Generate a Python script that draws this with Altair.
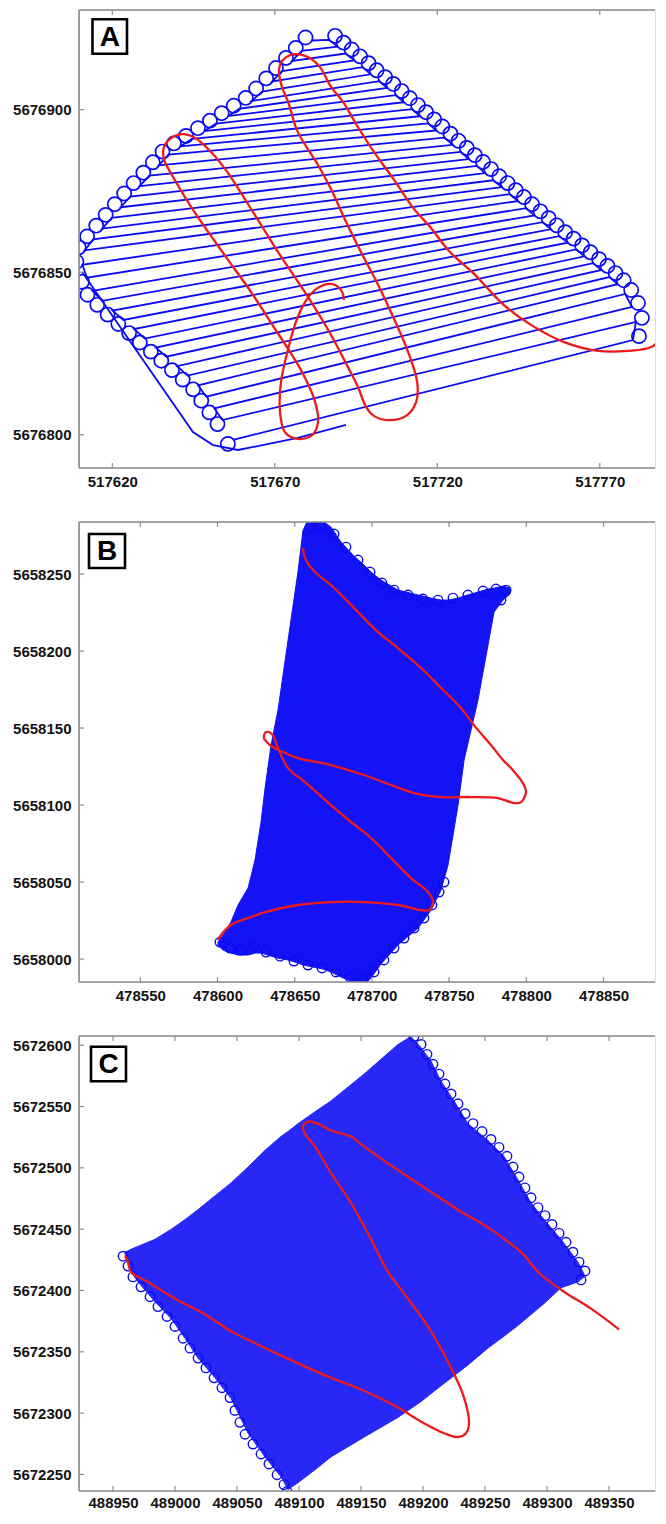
import altair as alt
import pandas as pd

BLUE = "#0a0af5"
RED = "#ee1a1a"
FRAME = "#8c8c8c"
FONT = "Liberation Sans"

# ---------------- Panel A ----------------
A_x_ticks = [517620, 517670, 517720, 517770]
A_y_ticks = [5676800, 5676850, 5676900]
A_left_x = [517681.3, 517678.3, 517675.3, 517672.2, 517669.2, 517666.1, 517662.9, 517659.2, 517655.5, 517651.9,
            517648.2, 517644.5, 517640.8, 517637.3, 517634.3, 517631.4, 517628.4, 517625.5, 517622.6, 517619.8,
            517616.9, 517614.1, 517611.5, 517610.8, 517612.2, 517613.9, 517616.9, 517620.1, 517623.4, 517626.7,
            517630.0, 517633.4, 517636.6, 517639.9, 517643.2, 517646.4, 517648.9, 517651.4, 517653.9, 517657.1]
A_left_y = [5676921.3, 5676918.1, 5676915.0, 5676911.9, 5676908.7, 5676905.6, 5676902.7, 5676900.3, 5676898.0, 5676895.7,
            5676893.4, 5676891.0, 5676888.7, 5676886.2, 5676882.9, 5676879.7, 5676876.5, 5676873.3, 5676870.0, 5676866.7,
            5676863.4, 5676860.1, 5676856.7, 5676852.3, 5676848.3, 5676844.3, 5676841.2, 5676838.2, 5676835.3, 5676832.5,
            5676829.6, 5676826.8, 5676824.0, 5676821.1, 5676818.2, 5676815.2, 5676811.7, 5676808.1, 5676804.5, 5676798.4]
A_right_x = [517686.7, 517689.3, 517691.8, 517694.4, 517697.0, 517699.5, 517702.1, 517704.6, 517707.2, 517709.7,
             517712.2, 517714.7, 517717.2, 517719.7, 517722.2, 517724.7, 517727.2, 517729.7, 517732.2, 517734.7,
             517737.2, 517739.8, 517742.3, 517744.8, 517747.3, 517749.9, 517752.4, 517754.9, 517757.5, 517760.1,
             517762.7, 517765.3, 517767.9, 517770.5, 517773.0, 517775.5, 517777.8, 517779.9, 517781.1, 517780.2]
A_right_y = [5676921.5, 5676919.4, 5676917.3, 5676915.2, 5676913.1, 5676910.9, 5676908.8, 5676906.7, 5676904.5, 5676902.3,
             5676900.2, 5676898.0, 5676895.8, 5676893.6, 5676891.4, 5676889.2, 5676887.0, 5676884.8, 5676882.7, 5676880.5,
             5676878.3, 5676876.2, 5676874.0, 5676871.9, 5676869.7, 5676867.5, 5676865.4, 5676863.2, 5676861.1, 5676859.1,
             5676857.0, 5676854.9, 5676852.8, 5676850.7, 5676848.5, 5676846.3, 5676843.3, 5676839.3, 5676834.7, 5676829.1]
A_transit_x = [517610.7, 517644.8, 517651.0, 517658.7, 517677.1, 517691.9]
A_transit_y = [5676850.1, 5676800.8, 5676796.8, 5676795.3, 5676799.0, 5676803.0]
A_red_x = [517789.8, 517785.8, 517778.7, 517769.5, 517759.0, 517748.8, 517740.5, 517731.3, 517723.9, 517717.8,
           517712.8, 517706.7, 517700.5, 517695.0, 517691.0, 517687.3, 517683.9, 517680.2, 517676.2, 517672.8,
           517671.3, 517672.2, 517674.1, 517677.1, 517683.3, 517687.3, 517691.9, 517696.5, 517701.8, 517706.7,
           517711.0, 517713.8, 517713.5, 517710.4, 517704.8, 517700.5, 517698.1, 517695.6, 517692.5, 517687.3,
           517680.2, 517671.0, 517663.3, 517654.7, 517649.5, 517645.5, 517641.8, 517638.1, 517635.9, 517635.9,
           517638.7, 517643.3, 517649.5, 517655.6, 517662.7, 517670.1, 517674.1, 517678.7, 517682.4, 517683.3,
           517681.5, 517677.1, 517673.1, 517671.6, 517671.9, 517674.1, 517676.5, 517679.3, 517682.7, 517687.3,
           517690.4, 517691.3]
A_red_y = [5676830.7, 5676827.0, 5676825.8, 5676825.8, 5676828.5, 5676833.8, 5676839.9, 5676849.5, 5676856.2, 5676863.9,
           5676869.5, 5676878.4, 5676887.0, 5676895.6, 5676902.4, 5676907.0, 5676913.1, 5676916.2, 5676917.1, 5676915.6,
           5676912.5, 5676907.0, 5676902.4, 5676893.1, 5676883.0, 5676875.6, 5676865.5, 5676856.2, 5676846.1, 5676835.6,
           5676825.5, 5676816.2, 5676810.1, 5676805.8, 5676804.5, 5676805.8, 5676808.5, 5676814.7, 5676820.8, 5676830.7,
           5676842.4, 5676856.2, 5676868.5, 5676881.8, 5676887.9, 5676891.3, 5676892.5, 5676891.3, 5676888.5, 5676884.8,
           5676879.3, 5676871.6, 5676862.4, 5676853.8, 5676843.9, 5676832.5, 5676826.4, 5676818.7, 5676810.1, 5676803.9,
           5676799.9, 5676798.7, 5676800.8, 5676807.0, 5676816.2, 5676826.4, 5676834.7, 5676840.8, 5676844.8, 5676846.4,
           5676844.5, 5676841.5]

# ---------------- Panel B ----------------
B_x_ticks = [478550, 478600, 478650, 478700, 478750, 478800, 478850]
B_y_ticks = [5658000, 5658050, 5658100, 5658150, 5658200, 5658250]
B_area_x = [478600.3, 478603.6, 478608.7, 478613.3, 478619.8, 478624.3, 478628.2, 478630.8, 478634.7, 478639.2,
            478645.7, 478652.1, 478655.4, 478658.6, 478668.3, 478673.5, 478680.0, 478687.8, 478694.9, 478699.4,
            478705.9, 478716.9, 478729.9, 478738.3, 478744.8, 478749.3, 478755.8, 478759.7, 478764.2, 478768.7,
            478775.2, 478779.1, 478784.9, 478789.4]
B_area_top = [5658011.0, 5658015.6, 5658024.0, 5658035.1, 5658046.1, 5658064.3, 5658089.0, 5658111.0, 5658139.0, 5658161.7,
              5658207.1, 5658251.3, 5658278.6, 5658284.4, 5658284.4, 5658280.5, 5658270.8, 5658262.3, 5658255.8, 5658251.3,
              5658246.1, 5658239.6, 5658236.4, 5658234.4, 5658233.1, 5658233.1, 5658234.4, 5658235.7, 5658237.0, 5658238.3,
              5658240.3, 5658240.9, 5658242.2, 5658240.9]
B_area_bottom = [5658009.1, 5658005.8, 5658003.9, 5658002.6, 5658002.6, 5658003.9, 5658003.9, 5658003.2, 5658001.9, 5658000.6,
                 5657999.4, 5657997.4, 5657996.1, 5657995.5, 5657993.5, 5657991.6, 5657988.3, 5657985.1, 5657983.1, 5657987.7,
                 5657996.8, 5658009.1, 5658020.1, 5658031.8, 5658044.8, 5658061.0, 5658100.0, 5658129.2, 5658148.7, 5658168.2,
                 5658203.9, 5658225.3, 5658233.1, 5658237.0]
B_loop_x = [478659.9, 478666.4, 478675.5, 478683.2, 478691.0, 478698.8, 478706.5, 478714.3, 478723.4, 478733.1,
            478742.8, 478752.5, 478762.2, 478772.0, 478780.4, 478786.9, 478783.6,
            478601.6, 478608.1, 478615.2, 478623.6, 478631.4, 478640.5, 478649.5, 478658.6, 478667.7, 478676.7,
            478685.8, 478694.2, 478701.4, 478707.8, 478714.3, 478720.8, 478727.3, 478733.7, 478738.9, 478743.5, 478746.7]
B_loop_y = [5658280.5, 5658281.2, 5658276.0, 5658267.5, 5658259.1, 5658251.3, 5658244.2, 5658239.6, 5658236.4, 5658233.8,
            5658233.1, 5658234.4, 5658236.4, 5658239.0, 5658240.3, 5658239.6, 5658233.1,
            5658011.0, 5658007.1, 5658005.8, 5658008.4, 5658004.5, 5658001.9, 5657998.7, 5657996.1, 5657994.2, 5657991.6,
            5657988.3, 5657986.4, 5657991.6, 5657999.4, 5658007.1, 5658013.6, 5658020.1, 5658026.6, 5658035.1, 5658043.5, 5658050.0]
B_red_x = [478655.4, 478656.7, 478663.1, 478673.5, 478691.0, 478704.0, 478716.9, 478731.8, 478744.8, 478757.7,
           478766.1, 478777.1, 478784.9, 478790.1, 478798.5, 478799.8, 478796.6, 478792.0, 478781.7, 478764.2,
           478744.8, 478727.3, 478712.4, 478694.9, 478673.5, 478652.1, 478642.4, 478634.0, 478630.1, 478631.4,
           478635.3, 478639.2, 478645.7, 478656.7, 478673.5, 478686.5, 478699.4, 478712.4, 478725.3, 478736.3,
           478739.6, 478737.0, 478731.8, 478716.9, 478694.9, 478673.5, 478652.1, 478630.8, 478621.7, 478608.7,
           478602.3, 478600.3]
B_red_y = [5658266.9, 5658260.4, 5658251.3, 5658242.9, 5658225.3, 5658212.3, 5658201.9, 5658189.0, 5658176.0, 5658163.0,
           5658151.9, 5658139.0, 5658129.2, 5658124.0, 5658113.0, 5658108.4, 5658101.9, 5658101.3, 5658104.5, 5658105.2,
           5658105.2, 5658107.8, 5658113.0, 5658119.5, 5658126.0, 5658130.5, 5658134.4, 5658139.0, 5658143.5, 5658147.4,
           5658146.1, 5658137.0, 5658124.0, 5658114.9, 5658100.0, 5658089.0, 5658078.6, 5658065.6, 5658052.6, 5658043.5,
           5658037.0, 5658031.8, 5658031.8, 5658035.1, 5658037.0, 5658037.0, 5658035.1, 5658030.5, 5658027.3, 5658022.1,
           5658015.6, 5658012.3]

# ---------------- Panel C ----------------
C_x_ticks = [488950, 489000, 489050, 489100, 489150, 489200, 489250, 489300, 489350]
C_y_ticks = [5672250, 5672300, 5672350, 5672400, 5672450, 5672500, 5672550, 5672600]
C_area_x = [488959.7, 488964.5, 488970.2, 488983.9, 488996.8, 489008.1, 489018.5, 489032.3, 489045.2, 489058.9,
            489072.6, 489085.5, 489091.1, 489099.2, 489112.9, 489125.8, 489152.4, 489179.8, 489190.3, 489198.4,
            489206.5, 489214.5, 489225.0, 489236.3, 489252.4, 489265.3, 489276.6, 489287.1, 489297.6, 489311.3,
            489325.0, 489329.8]
C_area_top = [5672431.2, 5672433.6, 5672436.0, 5672441.7, 5672449.8, 5672457.8, 5672465.9, 5672477.2, 5672487.7, 5672500.6,
              5672514.3, 5672525.6, 5672529.6, 5672536.0, 5672545.7, 5672554.6, 5672576.4, 5672600.6, 5672607.0, 5672598.1,
              5672586.9, 5672570.7, 5672554.6, 5672536.0, 5672522.3, 5672509.4, 5672490.1, 5672471.5, 5672457.8, 5672441.7,
              5672423.1, 5672413.5]
C_area_bottom = [5672429.6, 5672415.1, 5672407.0, 5672390.9, 5672377.2, 5672361.0, 5672344.9, 5672328.8, 5672311.9, 5672283.6,
                 5672264.3, 5672248.1, 5672237.7, 5672243.3, 5672253.8, 5672264.3, 5672280.4, 5672296.5, 5672303.8, 5672309.4,
                 5672315.9, 5672322.3, 5672330.4, 5672339.3, 5672353.0, 5672362.7, 5672371.5, 5672380.4, 5672389.3, 5672402.2,
                 5672407.0, 5672411.0]
C_loop_ne_x = [489190.3, 489196.0, 489200.8, 489205.6, 489210.5, 489215.3, 489220.2, 489225.8, 489231.5, 489237.9,
               489245.2, 489252.4, 489258.9, 489265.3, 489270.2, 489275.0, 489279.8, 489284.7, 489290.3, 489296.0,
               489301.6, 489307.3, 489312.9, 489318.5, 489323.4, 489328.2, 489325.0]
C_loop_ne_y = [5672605.4, 5672599.0, 5672590.9, 5672582.8, 5672574.8, 5672566.7, 5672558.6, 5672550.6, 5672542.5, 5672534.4,
               5672528.0, 5672521.5, 5672515.1, 5672507.8, 5672499.0, 5672490.9, 5672482.0, 5672474.0, 5672465.9, 5672459.4,
               5672452.2, 5672444.9, 5672437.7, 5672429.6, 5672421.5, 5672414.3, 5672407.0]
C_loop_sw_x = [488960.5, 488964.5, 488968.5, 488975.0, 488982.3, 488988.7, 488996.0, 489002.4, 489008.9, 489014.5,
               489021.0, 489027.4, 489033.9, 489040.3, 489046.8, 489050.8, 489054.8, 489058.9, 489065.3, 489071.8,
               489078.2, 489084.7, 489090.3, 489092.7]
C_loop_sw_y = [5672429.6, 5672421.5, 5672412.7, 5672404.6, 5672396.5, 5672388.5, 5672380.4, 5672372.3, 5672362.7, 5672354.6,
               5672346.5, 5672338.5, 5672330.4, 5672322.3, 5672314.3, 5672303.8, 5672294.1, 5672284.4, 5672276.4, 5672268.3,
               5672260.2, 5672251.4, 5672243.3, 5672237.7]
C_red_x = [488959.7, 488962.1, 488964.5, 488978.2, 489000.0, 489024.2, 489045.2, 489061.3, 489083.1, 489107.3,
           489125.8, 489152.4, 489179.8, 489200.8, 489216.9, 489228.2, 489234.7, 489237.1, 489233.1, 489222.6,
           489206.5, 489187.9, 489171.8, 489158.1, 489141.9, 489125.8, 489112.9, 489104.8, 489103.2, 489107.3,
           489115.3, 489125.8, 489141.9, 489152.4, 489179.8, 489204.0, 489228.2, 489254.8, 489281.5, 489292.7,
           489313.7, 489335.5, 489358.1]
C_red_y = [5672428.8, 5672423.1, 5672415.1, 5672407.0, 5672393.3, 5672380.4, 5672366.7, 5672358.6, 5672348.1, 5672336.9,
           5672328.8, 5672318.3, 5672304.6, 5672291.7, 5672283.6, 5672280.4, 5672283.6, 5672291.7, 5672312.7, 5672336.9,
           5672366.7, 5672393.3, 5672415.1, 5672441.7, 5672471.5, 5672495.7, 5672517.5, 5672528.0, 5672533.6, 5672537.7,
           5672536.0, 5672530.4, 5672525.6, 5672517.5, 5672498.1, 5672482.0, 5672465.9, 5672449.8, 5672428.8, 5672415.1,
           5672399.0, 5672385.2, 5672368.3]


def seq_df(xs, ys):
    return pd.DataFrame({"x": xs, "y": ys, "o": list(range(len(xs)))})


def lawnmower(lx, ly, rx, ry):
    px, py = [], []
    for i in range(len(lx)):
        if i % 2 == 0:
            px += [lx[i], rx[i]]
            py += [ly[i], ry[i]]
        else:
            px += [rx[i], lx[i]]
            py += [ry[i], ly[i]]
    return seq_df(px, py)


def panel(letter, box, xdom, ydom, xticks, yticks, W, H, content, xpad=6):
    xs = alt.Scale(domain=xdom, nice=False, zero=False)
    ys = alt.Scale(domain=ydom, nice=False, zero=False)
    common = dict(format="d", labelFont=FONT, labelFontWeight="bold", labelFontSize=15,
                  labelColor="#141414", ticks=False, domain=False, grid=False, title=None,
                  labelOverlap=False, labelFlush=False)
    xa = alt.Axis(values=xticks, labelPadding=xpad, **common)
    ya = alt.Axis(values=yticks, labelPadding=8, **common)

    def X(f="x"):
        return alt.X(f"{f}:Q", scale=xs, axis=xa)

    def Y(f="y"):
        return alt.Y(f"{f}:Q", scale=ys, axis=ya)

    layers = []
    for kind, df, style in content:
        if kind == "area":
            layers.append(alt.Chart(df).mark_area(clip=True, **style).encode(
                x=X(), y=Y("top"), y2=alt.Y2("bottom:Q")))
        elif kind == "line":
            layers.append(alt.Chart(df).mark_line(clip=True, **style).encode(
                x=X(), y=Y(), order="o:Q"))
        elif kind == "loop":
            layers.append(alt.Chart(df).mark_point(clip=True, shape="circle", filled=False, **style).encode(
                x=X(), y=Y()))

    xt = pd.DataFrame({"x": xticks})
    yt = pd.DataFrame({"y": yticks})
    tick = dict(color=FRAME, strokeWidth=1.2)
    one = pd.DataFrame({"t": [letter]})
    frame = dict(color=FRAME, strokeWidth=1.6)
    layers += [
        alt.Chart(xt).mark_rule(**tick).encode(x=X(), y=alt.value(H), y2=alt.value(H - 5)),
        alt.Chart(xt).mark_rule(**tick).encode(x=X(), y=alt.value(0), y2=alt.value(5)),
        alt.Chart(yt).mark_rule(**tick).encode(y=Y(), x=alt.value(0), x2=alt.value(5)),
        alt.Chart(one).mark_rule(**frame).encode(x=alt.value(0), x2=alt.value(W), y=alt.value(0)),
        alt.Chart(one).mark_rule(**frame).encode(x=alt.value(0), x2=alt.value(W), y=alt.value(H)),
        alt.Chart(one).mark_rule(**frame).encode(x=alt.value(0), y=alt.value(0), y2=alt.value(H)),
    ]
    bx0, by0, bx1, by1 = box
    layers += [
        alt.Chart(one).mark_rect(fill="white", stroke="black", strokeWidth=2.6).encode(
            x=alt.value(bx0), x2=alt.value(bx1), y=alt.value(by0), y2=alt.value(by1)),
        alt.Chart(one).mark_text(font=FONT, fontSize=28, fontWeight="bold", color="black",
                                 align="center", baseline="middle", dy=1).encode(
            x=alt.value((bx0 + bx1) / 2), y=alt.value((by0 + by1) / 2), text="t:N"),
    ]
    return alt.layer(*layers).properties(width=W, height=H)


blue_line = dict(color=BLUE, strokeWidth=1.8)
red_line = dict(color=RED, strokeWidth=2.3, interpolate="catmull-rom")
loopA = dict(color=BLUE, size=200, strokeWidth=1.7, opacity=1)
W = 576

pA = panel(
    "A", (13.5, 9.3, 48, 43.7),
    [517609.75, 517786.98], [5676789.76, 5676930.68], A_x_ticks, A_y_ticks, W, 458,
    [
        ("line", lawnmower(A_left_x, A_left_y, A_right_x, A_right_y), blue_line),
        ("line", seq_df(A_transit_x, A_transit_y), blue_line),
        ("loop", seq_df(A_right_x, A_right_y), dict(loopA, xOffset=6, yOffset=-4)),
        ("loop", seq_df(A_left_x[:24], A_left_y[:24]), dict(loopA, xOffset=-6, yOffset=-3)),
        ("loop", seq_df(A_left_x[24:], A_left_y[24:]), dict(loopA, xOffset=-5, yOffset=4)),
        ("line", seq_df(A_red_x, A_red_y), red_line),
    ],
)

pB = panel(
    "B", (10, 12, 46, 46),
    [478510.3, 478883.35], [5657985.1, 5658283.8], B_x_ticks, B_y_ticks, W, 460,
    [
        ("area", pd.DataFrame({"x": B_area_x, "top": B_area_top, "bottom": B_area_bottom}),
         dict(color=BLUE, opacity=0.96, stroke=BLUE, strokeWidth=1)),
        ("loop", seq_df(B_loop_x, B_loop_y), dict(color=BLUE, size=90, strokeWidth=1.4, opacity=1)),
        ("line", seq_df(B_red_x, B_red_y), red_line),
    ],
)

pC = panel(
    "C", (12, 10.7, 47, 45.3),
    [488922.58, 489387.1], [5672236.5, 5672607.5], C_x_ticks, C_y_ticks, W, 455,
    [
        ("area", pd.DataFrame({"x": C_area_x, "top": C_area_top, "bottom": C_area_bottom}),
         dict(color=BLUE, opacity=0.88, stroke=BLUE, strokeWidth=1)),
        ("loop", seq_df(C_loop_ne_x, C_loop_ne_y), dict(color=BLUE, size=90, strokeWidth=1.4, xOffset=3, yOffset=-2, opacity=1)),
        ("loop", seq_df(C_loop_sw_x, C_loop_sw_y), dict(color=BLUE, size=90, strokeWidth=1.4, xOffset=-3, yOffset=2, opacity=1)),
        ("line", seq_df(C_red_x, C_red_y), red_line),
    ],
    xpad=4,
)

chart = alt.vconcat(pA, pB, pC, spacing=54, bounds="flush").properties(
    padding={"left": 4, "top": 0, "right": 0, "bottom": 0}
).configure_view(stroke="transparent").configure(font=FONT)

chart.save("out.html", embed_options={"renderer": "svg", "actions": False})
